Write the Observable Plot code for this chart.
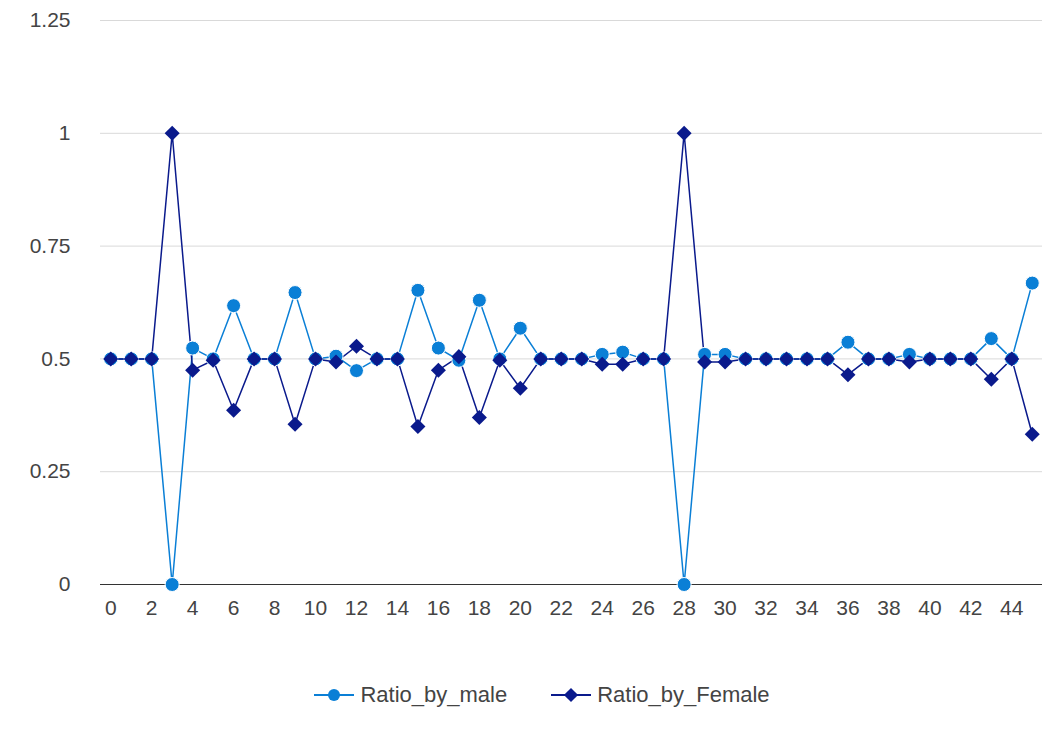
<!DOCTYPE html>
<html><head><meta charset="utf-8">
<script src="https://cdn.jsdelivr.net/npm/d3@7"></script>
<script src="https://cdn.jsdelivr.net/npm/@observablehq/plot@0.6"></script>
<style>
body{margin:0;background:#fff;font-family:"Liberation Sans",Arial,sans-serif;}
#legend{display:flex;justify-content:center;gap:44px;font-size:22px;color:#444;margin-top:52px;margin-left:20px}
#legend span{display:flex;align-items:center;gap:6px}
</style></head><body>
<div id="chart"></div>
<div id="legend"></div>
<script>
var male = [0.5,0.5,0.5,0,0.524,0.5,0.618,0.5,0.5,0.647,0.5,0.506,0.474,0.5,0.5,0.652,0.524,0.497,0.63,0.5,0.568,0.5,0.5,0.5,0.51,0.515,0.5,0.5,0,0.51,0.51,0.5,0.5,0.5,0.5,0.5,0.537,0.5,0.5,0.51,0.5,0.5,0.5,0.545,0.5,0.668];
var female = [0.5,0.5,0.5,1,0.475,0.497,0.386,0.5,0.5,0.355,0.5,0.493,0.528,0.5,0.5,0.35,0.475,0.505,0.37,0.497,0.435,0.5,0.5,0.5,0.488,0.488,0.5,0.5,1,0.493,0.493,0.5,0.5,0.5,0.5,0.5,0.465,0.5,0.5,0.493,0.5,0.5,0.5,0.455,0.5,0.333];
var xTicks = d3.range(0, 45, 2);
var yTicks = [0, 0.25, 0.5, 0.75, 1, 1.25];
var maleColor = "#0a7fd6", femaleColor = "#0a1a8c";

var mData = male.map((v, i) => ({x: i, y: v}));
var fData = female.map((v, i) => ({x: i, y: v}));

var plot = Plot.plot({
  width: 1064, height: 630,
  marginLeft: 100, marginRight: 22, marginTop: 20, marginBottom: 46,
  x: {domain: [-0.5, 45.5], ticks: xTicks, tickSize: 0, tickPadding: 16, label: null},
  y: {domain: [0, 1.25], ticks: yTicks, tickSize: 0, tickPadding: 30, label: null, tickFormat: d => String(d)},
  style: {fontSize: "21px", color: "#444", fontFamily: "Liberation Sans, Arial, sans-serif"},
  marks: [
    Plot.gridY(yTicks.slice(1), {stroke: "#d9d9d9", strokeOpacity: 1}),
    Plot.ruleY([0], {stroke: "#333"}),
    Plot.line(mData, {x: "x", y: "y", stroke: maleColor, strokeWidth: 1.5}),
    Plot.line(fData, {x: "x", y: "y", stroke: femaleColor, strokeWidth: 1.5}),
    Plot.dot(mData, {x: "x", y: "y", r: 7, fill: maleColor, stroke: "white", strokeWidth: 1}),
    Plot.dot(fData, {x: "x", y: "y", r: 6, symbol: "square", rotate: 45, fill: femaleColor})
  ]
});
document.getElementById("chart").append(plot);

var lg = document.getElementById("legend");
lg.innerHTML =
  '<span><svg width="40" height="16"><line x1="0" y1="8" x2="40" y2="8" stroke="' + maleColor + '" stroke-width="2"/><circle cx="20" cy="8" r="6" fill="' + maleColor + '"/></svg>Ratio_by_male</span>' +
  '<span><svg width="40" height="16"><line x1="0" y1="8" x2="40" y2="8" stroke="' + femaleColor + '" stroke-width="2"/><rect x="15" y="3" width="10" height="10" fill="' + femaleColor + '" transform="rotate(45 20 8)"/></svg>Ratio_by_Female</span>';
</script>
</body></html>
